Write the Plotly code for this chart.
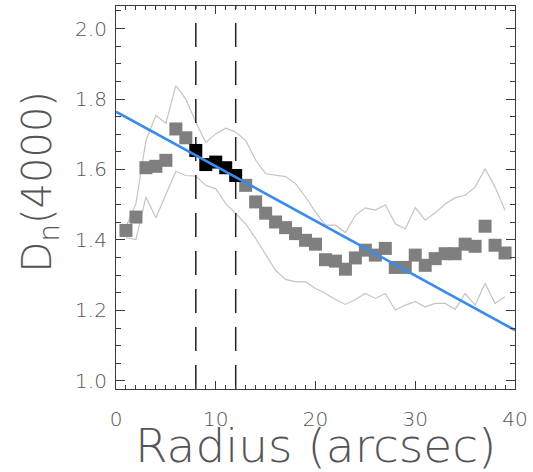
import plotly.graph_objects as go

# Radial D_n(4000) profile, radius in arcsec
radius = list(range(1, 40))
dn4000 = [1.427, 1.465, 1.605, 1.609, 1.626, 1.715, 1.690, 1.654, 1.614, 1.621,
          1.605, 1.583, 1.555, 1.508, 1.476, 1.451, 1.435, 1.418, 1.399, 1.388,
          1.344, 1.340, 1.317, 1.349, 1.371, 1.357, 1.376, 1.322, 1.322, 1.357,
          1.328, 1.347, 1.361, 1.361, 1.388, 1.382, 1.439, 1.385, 1.363]

# Upper / lower envelopes
dn_upper = [1.437, 1.503, 1.682, 1.753, 1.731, 1.838, 1.800, 1.734, 1.677, 1.701,
            1.717, 1.706, 1.682, 1.627, 1.588, 1.585, 1.580, 1.560, 1.522, 1.479,
            1.442, 1.442, 1.421, 1.470, 1.491, 1.485, 1.500, 1.446, 1.431, 1.492,
            1.456, 1.477, 1.502, 1.520, 1.527, 1.550, 1.602, 1.550, 1.484]
dn_lower = [1.407, 1.401, 1.522, 1.463, 1.529, 1.595, 1.583, 1.581, 1.555, 1.545,
            1.503, 1.475, 1.446, 1.404, 1.357, 1.314, 1.288, 1.281, 1.281, 1.262,
            1.248, 1.231, 1.217, 1.231, 1.248, 1.234, 1.248, 1.201, 1.215, 1.225,
            1.210, 1.220, 1.220, 1.203, 1.248, 1.215, 1.277, 1.220, 1.239]

# Inner annulus boundaries (arcsec)
ring_bounds = [8, 12]

# Linear fit end points
fit_r = [0, 40]
fit_dn = [1.764, 1.144]

x_ticks = [0, 10, 20, 30, 40]
y_ticks = [1.0, 1.2, 1.4, 1.6, 1.8, 2.0]
x_range = [0, 40]
y_range = [0.977, 2.064]

inner = [(r, d) for r, d in zip(radius, dn4000) if ring_bounds[0] <= r <= ring_bounds[1]]
outer = [(r, d) for r, d in zip(radius, dn4000) if not (ring_bounds[0] <= r <= ring_bounds[1])]

fig = go.Figure()

env_style = dict(color="#c4c4c4", width=1.2)
fig.add_trace(go.Scatter(x=radius, y=dn_upper, mode="lines", line=env_style, hoverinfo="skip"))
fig.add_trace(go.Scatter(x=radius, y=dn_lower, mode="lines", line=env_style, hoverinfo="skip"))

for rb in ring_bounds:
    fig.add_trace(go.Scatter(x=[rb, rb], y=y_range, mode="lines",
                             line=dict(color="#222222", width=1.5, dash="24px,14px"),
                             hoverinfo="skip"))

fig.add_trace(go.Scatter(x=[p[0] for p in outer], y=[p[1] for p in outer], mode="markers",
                         marker=dict(symbol="square", size=13, color="#7f7f7f", line=dict(width=0))))
fig.add_trace(go.Scatter(x=[p[0] for p in inner], y=[p[1] for p in inner], mode="markers",
                         marker=dict(symbol="square", size=13, color="#000000", line=dict(width=0))))

fig.add_trace(go.Scatter(x=fit_r, y=fit_dn, mode="lines",
                         line=dict(color="#3a8bea", width=2.6), hoverinfo="skip"))

tick_font = dict(family="DejaVu Sans", size=20, color="#555555", weight=200)
axis_common = dict(showgrid=False, zeroline=False, showline=True, linecolor="#3a3a3a",
                   linewidth=1.2, mirror="allticks", ticks="inside", tickcolor="#3a3a3a",
                   tickwidth=1.2, tickfont=tick_font)

fig.update_xaxes(range=x_range, tickvals=x_ticks, ticktext=[str(v) for v in x_ticks],
                 ticklen=8, ticklabelstandoff=12,
                 minor=dict(dtick=1, ticks="inside", ticklen=4, tickcolor="#3a3a3a", tickwidth=1),
                 **axis_common)
fig.update_yaxes(range=y_range, tickvals=y_ticks, ticktext=[f"{v:.1f}" for v in y_ticks],
                 ticklen=9, ticklabelstandoff=4,
                 minor=dict(dtick=0.05, tick0=1.0, ticks="inside", ticklen=5, tickcolor="#3a3a3a", tickwidth=1),
                 **axis_common)

title_font = dict(family="DejaVu Sans", size=47, color="#555555", weight=200)
fig.add_annotation(text="Radius (arcsec)", xref="paper", yref="paper", x=0.5, y=-0.148,
                   xanchor="center", yanchor="middle", showarrow=False, font=title_font)
fig.add_annotation(text="D<sub>n</sub>(4000)", xref="paper", yref="paper", x=-0.19, y=0.542,
                   xanchor="center", yanchor="middle", textangle=-90, showarrow=False,
                   font=dict(family="DejaVu Sans", size=40, color="#555555", weight=200))

fig.update_layout(width=533, height=472, margin=dict(l=116, r=16, t=5, b=83),
                  paper_bgcolor="white", plot_bgcolor="white", showlegend=False)

fig.write_html("out.html")
